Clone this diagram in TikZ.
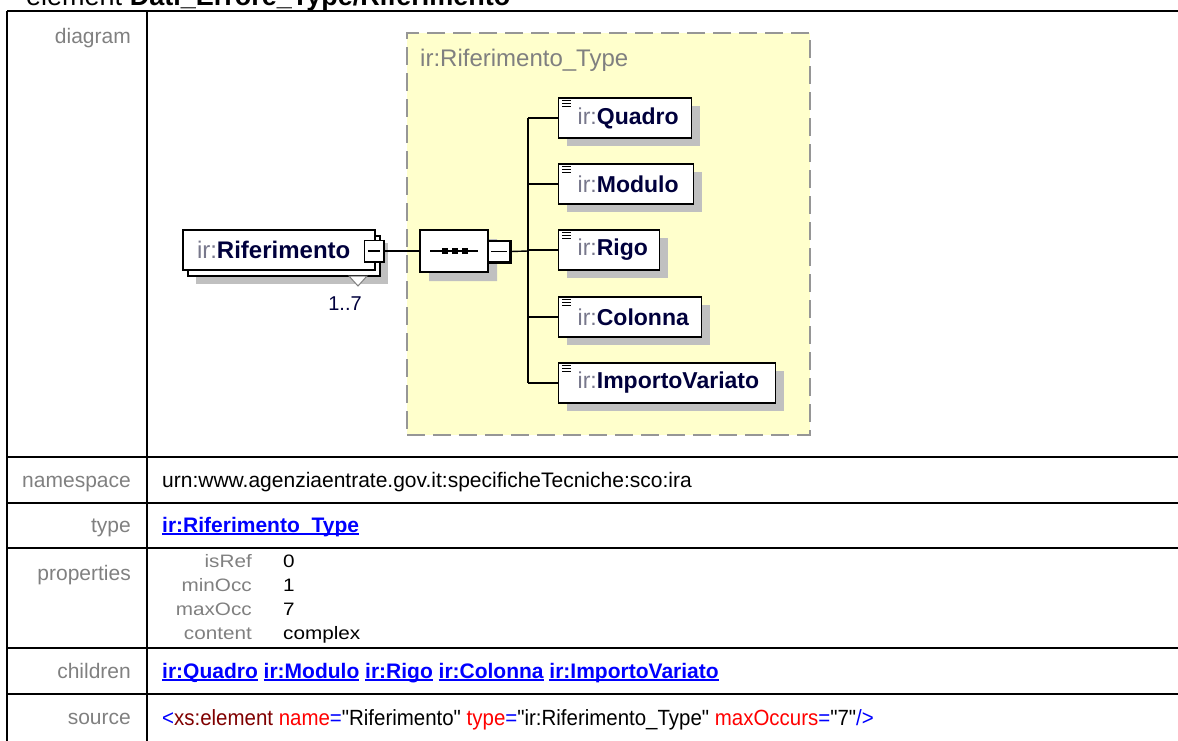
\documentclass[tikz,border=0pt]{standalone}
\usepackage{fontspec}
\setmainfont{Liberation Sans}
\newfontfamily\srcfont{Liberation Sans}[FakeStretch=0.93]
\newfontfamily\propfont{Liberation Sans}[FakeStretch=1.15]
\usetikzlibrary{shapes.misc,shadows}
\definecolor{lblgray}{RGB}{128,128,128}
\definecolor{yell}{RGB}{255,255,204}
\definecolor{dashgray}{RGB}{150,150,150}
\definecolor{shad}{RGB}{192,192,192}
\definecolor{navy}{RGB}{0,0,60}
\definecolor{irgray}{RGB}{120,120,140}
\definecolor{lnkblue}{RGB}{0,0,255}
\definecolor{xmaroon}{RGB}{128,0,0}
\definecolor{xred}{RGB}{255,0,0}
\newcommand{\xlnk}[1]{\setbox0\hbox{#1}\rlap{\usebox0}\rule[-2.6pt]{\wd0}{1.5pt}}
\newcommand{\xfs}[1]{\fontsize{#1}{#1}\selectfont}
\newcommand{\irn}[1]{{\color{irgray}ir:}{\bfseries\color{navy}#1}}
\begin{document}
\begin{tikzpicture}[x=1pt,y=-1pt,
  tabline/.style={line width=1.8pt,black},
  lbl/.style={anchor=base east,inner sep=0pt,text=lblgray,font=\xfs{21}},
  val/.style={anchor=base west,inner sep=0pt,font=\xfs{21}},
  plbl/.style={anchor=base east,inner sep=0pt,text=lblgray,font=\propfont\xfs{18}},
  pval/.style={anchor=base west,inner sep=0pt,font=\propfont\xfs{18}},
  typebox/.style={draw=dashgray,fill=yell,line width=2pt,dash pattern=on 18pt off 8pt,inner sep=0pt},
  elembox/.style={draw=black,fill=white,line width=1.4pt,inner sep=0pt,font=\xfs{24}},
  childbox/.style={draw=black,fill=white,line width=1.4pt,inner sep=0pt,anchor=west,
     minimum height=40pt,align=left,font=\xfs{23},
     general shadow={fill=shad,shadow xshift=8pt,shadow yshift=-8pt}},
  expsq/.style={draw=black,fill=white,line width=1.2pt,inner sep=0pt,minimum width=19pt,minimum height=21pt},
  conn/.style={line width=1.4pt,black}
]
\useasboundingbox (0,0) rectangle (1178,740);
\clip (0,0) rectangle (1178,740);

% title (cut off at top)
\node[anchor=base west,inner sep=0pt,font=\xfs{27}] (title) at (26,5) {element \textbf{Dati\_Errore\_Type/Riferimento}};

% table frame
\draw[tabline] (7,11) -- (1182,11);
\draw[tabline] (7,11) -- (7,745);
\draw[tabline] (147,11) -- (147,745);
\foreach \yy in {457,503,548,648,694} \draw[tabline] (7,\yy) -- (1182,\yy);

% left labels
\node[lbl] (ldiag) at (131,43) {diagram};
\node[lbl] (lns) at (131,487) {namespace};
\node[lbl] (ltype) at (131,532) {type};
\node[lbl] (lprop) at (131,580) {properties};
\node[lbl] (lchild) at (131,678) {children};
\node[lbl] (lsrc) at (131,724) {source};

% values
\node[val] (vns) at (162,487) {urn:www.agenziaentrate.gov.it:specificheTecniche:sco:ira};
\node[val,text=lnkblue] (vtype) at (162,532) {\bfseries\xlnk{ir:Riferimento\_Type}};
\node[plbl] (pk1) at (252,567) {isRef};
\node[plbl] (pk2) at (252,591) {minOcc};
\node[plbl] (pk3) at (252,615) {maxOcc};
\node[plbl] (pk4) at (252,639) {content};
\node[pval] (pv1) at (283,567) {0};
\node[pval] (pv2) at (283,591) {1};
\node[pval] (pv3) at (283,615) {7};
\node[pval] (pv4) at (283,639) {complex};
\node[val,text=lnkblue] (vchild) at (162,678) {\bfseries\xlnk{ir:Quadro} \xlnk{ir:Modulo} \xlnk{ir:Rigo} \xlnk{ir:Colonna} \xlnk{ir:ImportoVariato}};
\node[val,font=\srcfont\xfs{22}] (vsrc) at (162,725) {\color{lnkblue}<\color{xmaroon}xs:element \color{xred}name\color{lnkblue}=\color{black}"Riferimento" \color{xred}type\color{lnkblue}=\color{black}"ir:Riferimento\_Type" \color{xred}maxOccurs\color{lnkblue}=\color{black}"7"\color{lnkblue}/>};

% type box
\node[typebox,minimum width=403pt,minimum height=402pt] (tbox) at (608.5,234) {};
\node[anchor=base west,inner sep=0pt,text=lblgray,font=\xfs{24}] (tname) at (420,66) {ir:Riferimento\_Type};

% element Riferimento (stacked, with shadow)
\fill[shad] (196,243) rectangle (388,284);
\draw[fill=white,line width=1.4pt] (188,236) rectangle (380,276);
\node[elembox,minimum width=192pt,minimum height=40pt,text width=192pt,align=left] (ref) at (279,250) {\hspace*{14pt}\irn{Riferimento}};
\draw[fill=white,draw=gray,line width=1pt] (349,276) -- (367,276) -- (358,286) -- cycle;
\node[anchor=base,inner sep=0pt,text=navy,font=\xfs{20}] (occ) at (345,310) {1..7};
\node[expsq] (refsq) at (374,251) {};
\draw[line width=2.4pt] (refsq.north east) -- (refsq.south east) -- (refsq.south west);
\draw[line width=1.3pt] ([xshift=4pt]refsq.west) -- ([xshift=-4pt]refsq.east);

% sequence compositor
\node[chamfered rectangle,chamfered rectangle xsep=8pt,chamfered rectangle ysep=8pt,
      draw=black,fill=white,line width=1.4pt,inner sep=0pt,minimum width=68pt,minimum height=42pt,
      general shadow={fill=shad,shadow xshift=9pt,shadow yshift=-9pt}] (seq) at (454,251) {};
\draw[line width=1.4pt] (430,251) -- (478,251);
\foreach \xx in {445,455,465} \fill (\xx-3,248) rectangle (\xx+3,254);
\node[expsq,minimum width=22pt] (seqsq) at (499,251.5) {};
\draw[line width=2.4pt] (seqsq.north east) -- (seqsq.south east) -- (seqsq.south west);
\draw[line width=1.3pt] ([xshift=4pt]seqsq.west) -- ([xshift=-4pt]seqsq.east);

\draw[conn] (refsq.east) -- (seq.west);
\coordinate (bus) at (528,251);
\draw[conn] (seqsq.east) -- (bus);

% children
\node[childbox,minimum width=133pt,text width=133pt] (c1) at (558,118) {\hspace*{19pt}\irn{Quadro}};
\node[childbox,minimum width=135pt,text width=135pt] (c2) at (558,184) {\hspace*{19pt}\irn{Modulo}};
\node[childbox,minimum width=101pt,text width=101pt] (c3) at (558,250) {\hspace*{19pt}\irn{Rigo}};
\node[childbox,minimum width=143pt,text width=143pt] (c4) at (558,317) {\hspace*{19pt}\irn{Colonna}};
\node[childbox,minimum width=217pt,text width=217pt] (c5) at (558,383) {\hspace*{19pt}\irn{ImportoVariato}};

\draw[conn] (bus |- c1.west) -- (bus |- c5.west);
\foreach \c in {c1,c2,c3,c4,c5} {
  \draw[conn] (bus |- \c.west) -- (\c.west);
  \foreach \dy in {3.5,6.5,9.5}
    \draw[line width=1.1pt] ([xshift=4pt,yshift=-\dy pt]\c.north west) -- ++(9pt,0pt);
}
\end{tikzpicture}
\end{document}
